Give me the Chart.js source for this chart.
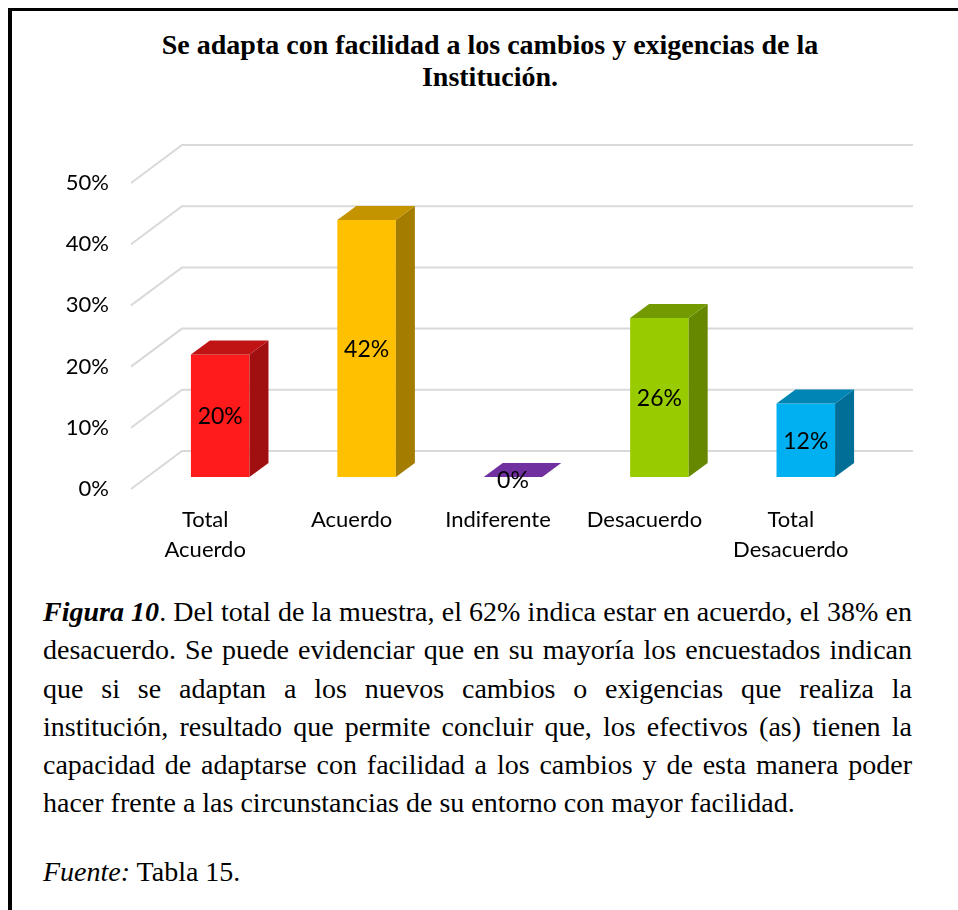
<!DOCTYPE html>
<html>
<head>
<meta charset="utf-8">
<script src="https://cdn.jsdelivr.net/npm/chart.js@4"></script>
<style>
  html, body { margin: 0; padding: 0; background: #fff; overflow: hidden; }
  #page { position: relative; width: 958px; height: 910px; }
  #frame { position: absolute; left: 8px; top: 8px; width: 960px; height: 910px;
           border-left: 4px solid #000; border-top: 3px solid #000; }
  #title { position: absolute; left: 22px; top: 29px; width: 936px; text-align: center;
           font-family: "Liberation Serif", serif; font-weight: bold; font-size: 28px; line-height: 32px; }
  #chartBox { position: absolute; left: 0; top: 0; width: 958px; height: 570px; }
  #caption { position: absolute; left: 43px; top: 593px; width: 869px;
             font-family: "Liberation Serif", serif; font-size: 28px; line-height: 38.3px; }
  #caption .ln { text-align: justify; text-align-last: justify; white-space: nowrap; }
  #caption .ln.last { text-align-last: left; }
  #source { position: absolute; left: 43px; top: 853px;
            font-family: "Liberation Serif", serif; font-size: 28px; line-height: 38px; }
</style>
</head>
<body>
<div id="page">
  <div id="frame"></div>
  <div id="title">Se adapta con facilidad a los cambios y exigencias de la<br>Institución.</div>
  <div id="chartBox"><canvas id="respChart" width="958" height="570"></canvas></div>
  <div id="caption">
    <div class="ln"><b><i>Figura 10</i></b>. Del total de la muestra, el 62% indica estar en acuerdo, el 38% en</div>
    <div class="ln">desacuerdo. Se puede evidenciar que en su mayoría los encuestados indican</div>
    <div class="ln">que si se adaptan a los nuevos cambios o exigencias que realiza la</div>
    <div class="ln">institución, resultado que permite concluir que, los efectivos (as) tienen la</div>
    <div class="ln">capacidad de adaptarse con facilidad a los cambios y de esta manera poder</div>
    <div class="ln last">hacer frente a las circunstancias de su entorno con mayor facilidad.</div>
  </div>
  <div id="source"><i>Fuente:</i> Tabla 15.</div>
</div>
<script>
// categories and values (percent)
const categories = [['Total', 'Acuerdo'], 'Acuerdo', 'Indiferente', 'Desacuerdo', ['Total', 'Desacuerdo']];
const percentValues = [20, 42, 0, 26, 12];
const yTicks = [0, 10, 20, 30, 40, 50];

// front / top / side colours per bar
const frontColors = ['#ff1b1b', '#ffc000', '#7030a0', '#99cc00', '#00b0f0'];
const topColors = ['#c01414', '#c49300', '#7a3aab', '#739a00', '#0085b5'];
const sideColors = ['#a11010', '#a47d00', '#5e2887', '#668800', '#006f97'];

const DX = 19, DY = 14;      // bar depth
const labelFont = '23px Lato';

// floor/back walls: diagonal + back gridlines, then bar sides and value labels
const gridPlugin = {
    id: 'grid3d',
    beforeDatasetsDraw(chart) {
        const ctx = chart.ctx;
        const yScale = chart.scales.y;
        const area = chart.chartArea;
        ctx.save();
        ctx.strokeStyle = '#d9d9d9';
        ctx.lineWidth = 2;
        yTicks.forEach(v => {
            const y = yScale.getPixelForValue(v);
            ctx.beginPath();
            ctx.moveTo(area.left - 16, y + 12);
            ctx.lineTo(area.left + 35, y - 26);
            ctx.lineTo(area.right + 34, y - 26);
            ctx.stroke();
        });
        ctx.restore();
    },
    afterDatasetsDraw(chart) {
        const ctx = chart.ctx;
        const meta = chart.getDatasetMeta(0);
        ctx.save();
        meta.data.forEach((bar, i) => {
            const p = bar.getProps(['x', 'y', 'base', 'width'], true);
            const left = p.x - p.width / 2;
            const right = p.x + p.width / 2;
            const top = p.y;
            const base = p.base;
            // side
            if (base - top > 0.5) {
                ctx.fillStyle = sideColors[i];
                ctx.beginPath();
                ctx.moveTo(right, top);
                ctx.lineTo(right + DX, top - DY);
                ctx.lineTo(right + DX, base - DY);
                ctx.lineTo(right, base);
                ctx.closePath();
                ctx.fill();
            }
            // top
            ctx.fillStyle = base - top > 0.5 ? topColors[i] : frontColors[i];
            ctx.beginPath();
            ctx.moveTo(left, top);
            ctx.lineTo(left + DX, top - DY);
            ctx.lineTo(right + DX, top - DY);
            ctx.lineTo(right, top);
            ctx.closePath();
            ctx.fill();

            // value label
            ctx.fillStyle = '#000';
            ctx.font = labelFont;
            ctx.textAlign = 'center';
            ctx.textBaseline = 'middle';
            const ly = base - top > 0.5 ? (top + base) / 2 + 1 : base + 4;
            ctx.fillText(percentValues[i] + '%', p.x, ly);
        });
        ctx.restore();
    }
};

const ctx = document.getElementById('respChart').getContext('2d');
const respChart = new Chart(ctx, {
    type: 'bar',
    data: {
        labels: categories,
        datasets: [{
            data: percentValues,
            backgroundColor: frontColors,
            borderWidth: 0,
            barPercentage: 0.8,
            categoryPercentage: 0.5
        }]
    },
    options: {
        responsive: false,
        animation: false,
        maintainAspectRatio: false,
        layout: { padding: { top: 171, right: 79, bottom: 0, left: 0 } },
        plugins: {
            legend: { display: false },
            title: { display: false },
            tooltip: { enabled: false }
        },
        scales: {
            x: {
                grid: { display: false, drawTicks: false },
                border: { display: false },
                ticks: {
                    color: '#000',
                    font: { family: 'Lato', size: 22, lineHeight: 1.35 },
                    padding: 28,
                    labelOffset: -15,
                    maxRotation: 0,
                    autoSkip: false
                },
                afterFit: scale => { scale.height = 93; }
            },
            y: {
                min: 0,
                max: 50,
                grid: { display: false, drawTicks: false },
                border: { display: false },
                ticks: {
                    stepSize: 10,
                    color: '#000',
                    font: { family: 'Lato', size: 22 },
                    padding: 38,
                    labelOffset: 12,
                    callback: v => v + '%'
                },
                afterFit: scale => { scale.width = 147; }
            }
        }
    },
    plugins: [gridPlugin]
});
</script>
</body>
</html>
